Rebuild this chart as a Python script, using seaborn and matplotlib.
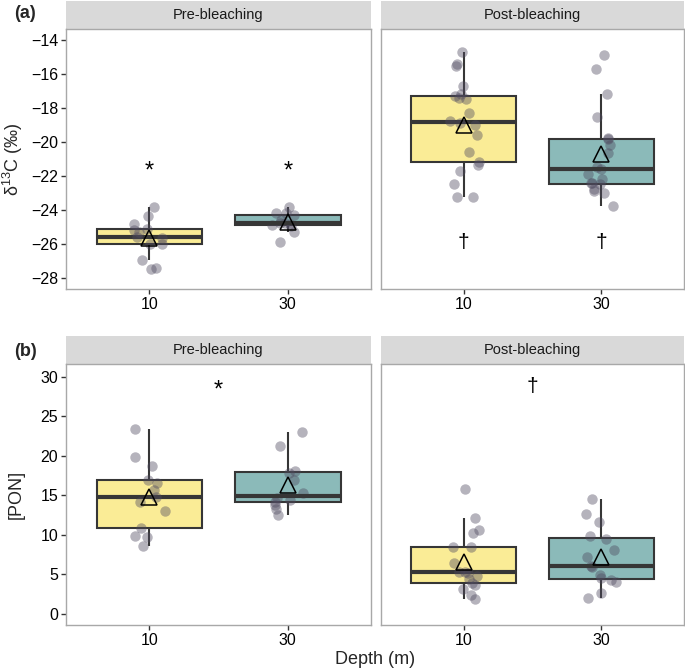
import numpy as np
import pandas as pd
import seaborn as sns
import matplotlib.pyplot as plt
from matplotlib.patches import Rectangle

# delta13C values (per mil), by period and depth
d13c_pre_10 = [-27.5, -27.4, -26.95, -26.0, -26.0, -25.65, -25.6, -25.3, -25.15, -25.1, -24.8, -24.35, -23.8]
d13c_pre_30 = [-25.9, -25.27, -24.95, -24.9, -24.8, -24.78, -24.75, -24.6, -24.3, -24.2, -24.15, -23.85]
d13c_post_10 = [-23.25, -23.25, -22.47, -21.71, -21.35, -21.15, -20.59, -19.61, -19.0, -18.9,
                -18.75, -18.27, -17.49, -17.39, -17.3, -17.2, -16.71, -15.51, -15.41, -14.73]
d13c_post_30 = [-23.75, -22.98, -22.88, -22.76, -22.5, -22.44, -22.39, -22.16, -21.9, -21.57,
                -21.5, -20.67, -20.2, -19.85, -19.79, -18.51, -17.2, -15.73, -14.9]

# [PON] values
pon_pre_10 = [8.6, 9.73, 9.9, 10.83, 13.06, 14.16, 14.75, 15.72, 16.6, 16.9, 18.71, 19.81, 23.39]
pon_pre_30 = [12.52, 13.24, 13.8, 14.2, 14.41, 14.6, 15.3, 16.94, 17.87, 18.04, 21.24, 23.0]
pon_post_10 = [1.86, 2.4, 3.2, 3.7, 3.96, 4.38, 4.8, 5.23, 5.27, 5.3, 6.5, 8.4, 8.43, 10.18, 10.62, 12.1, 15.8]
pon_post_30 = [2.02, 2.7, 4.08, 4.3, 4.55, 4.93, 5.9, 6.07, 7.17, 8.05, 9.44, 9.86, 11.63, 12.68, 14.5]

depths = ["10", "30"]
periods = ["Pre-bleaching", "Post-bleaching"]


def long_df(var, groups):
    rows = []
    for (period, depth), vals in groups.items():
        for v in vals:
            rows.append({"var": var, "period": period, "depth": depth, "value": v})
    return pd.DataFrame(rows)


df = pd.concat([
    long_df("d13C", {("Pre-bleaching", "10"): d13c_pre_10, ("Pre-bleaching", "30"): d13c_pre_30,
                     ("Post-bleaching", "10"): d13c_post_10, ("Post-bleaching", "30"): d13c_post_30}),
    long_df("PON", {("Pre-bleaching", "10"): pon_pre_10, ("Pre-bleaching", "30"): pon_pre_30,
                    ("Post-bleaching", "10"): pon_post_10, ("Post-bleaching", "30"): pon_post_30}),
])

sns.set_style("white")
plt.rcParams["font.family"] = ["Liberation Sans", "DejaVu Sans"]
plt.rcParams["mathtext.fontset"] = "custom"
plt.rcParams["mathtext.rm"] = "Liberation Sans"

pal = {"10": "#FAEC96", "30": "#8BBAB9"}
np.random.seed(3)

fig = plt.figure(figsize=(6.85, 6.7), dpi=100)
W, H = 685, 670
cols = [(66, 305), (381, 303)]
rows = [(29, 289, "d13C"), (364, 625, "PON")]

axes = {}
for r, (ytop, ybot, var) in enumerate(rows):
    for c, (x0, w) in enumerate(cols):
        ax = fig.add_axes([x0 / W, 1 - ybot / H, w / W, (ybot - ytop) / H])
        axes[(r, c)] = ax
        sub = df[(df["var"] == var) & (df["period"] == periods[c])]
        sns.boxplot(data=sub, x="depth", y="value", hue="depth", order=depths, hue_order=depths,
                    palette=pal, saturation=1, legend=False, width=0.76, showfliers=False, whis=1.5,
                    linecolor="#363636", linewidth=1.5, ax=ax,
                    medianprops=dict(linewidth=3, color="#363636"),
                    capprops=dict(linewidth=0))
        sns.stripplot(data=sub, x="depth", y="value", order=depths, color="#4F4A60",
                      alpha=0.42, size=7.5, jitter=0.12, linewidth=0, ax=ax, zorder=4)
        sns.pointplot(data=sub, x="depth", y="value", order=depths, estimator="mean",
                      errorbar=None, marker="^", linestyle="none", color="black",
                      markersize=11, markerfacecolor="none", markeredgewidth=1.1, ax=ax)
        for ln in ax.lines[-3:]:
            ln.set_zorder(6)
        ax.set_xlim(-0.6, 1.6)
        if var == "d13C":
            ax.set_ylim(-28.65, -13.35)
            ax.set_yticks(np.arange(-28, -13, 2))
        else:
            ax.set_ylim(-1.4, 31.6)
            ax.set_yticks(np.arange(0, 31, 5))
        ax.set_xlabel("")
        ax.set_ylabel("")
        for s in ax.spines.values():
            s.set_color("#A8A8A8")
            s.set_linewidth(1.0)
        ax.tick_params(axis="both", length=3.5, width=1, color="#333333", labelsize=11.5,
                       labelcolor="black", pad=2, direction="out", left=True, bottom=True)
        if c == 1:
            ax.tick_params(axis="y", left=False, labelleft=False)
        # facet strip
        sh = 28 / (ybot - ytop)
        ax.add_patch(Rectangle((0, 1), 1, sh, transform=ax.transAxes, clip_on=False,
                               facecolor="#D9D9D9", edgecolor="none"))
        ax.text(0.5, 1 + sh / 2, periods[c], transform=ax.transAxes, ha="center",
                va="center", fontsize=10.5, color="#1A1A1A")

# significance marks
a = axes[(0, 0)]
for xi in [0, 1]:
    a.text(xi, -21.75, "*", ha="center", va="center", fontsize=17, color="black")
a = axes[(0, 1)]
for xi in [0, 1]:
    a.text(xi, -25.9, "\u2020", ha="center", va="center", fontsize=15, color="black")
axes[(1, 0)].text(0.5, 28.3, "*", ha="center", va="center", fontsize=17, color="black")
axes[(1, 1)].text(0.5, 28.7, "\u2020", ha="center", va="center", fontsize=15, color="black")

axes[(0, 0)].set_ylabel("\u03b4$^{13}$C (\u2030)", fontsize=13)
axes[(0, 0)].yaxis.set_label_coords(-0.135, 0.5)
axes[(1, 0)].set_ylabel("[PON]", fontsize=13)
axes[(1, 0)].yaxis.set_label_coords(-0.135, 0.5)

fig.text(375 / W, 1 - 659 / H, "Depth (m)", ha="center", va="center", fontsize=13)
fig.text(14 / W, 1 - 14 / H, "(a)", ha="left", va="center", fontsize=13, fontweight="bold")
fig.text(14 / W, 1 - 352 / H, "(b)", ha="left", va="center", fontsize=13, fontweight="bold")

plt.savefig("out.png", dpi=100)
